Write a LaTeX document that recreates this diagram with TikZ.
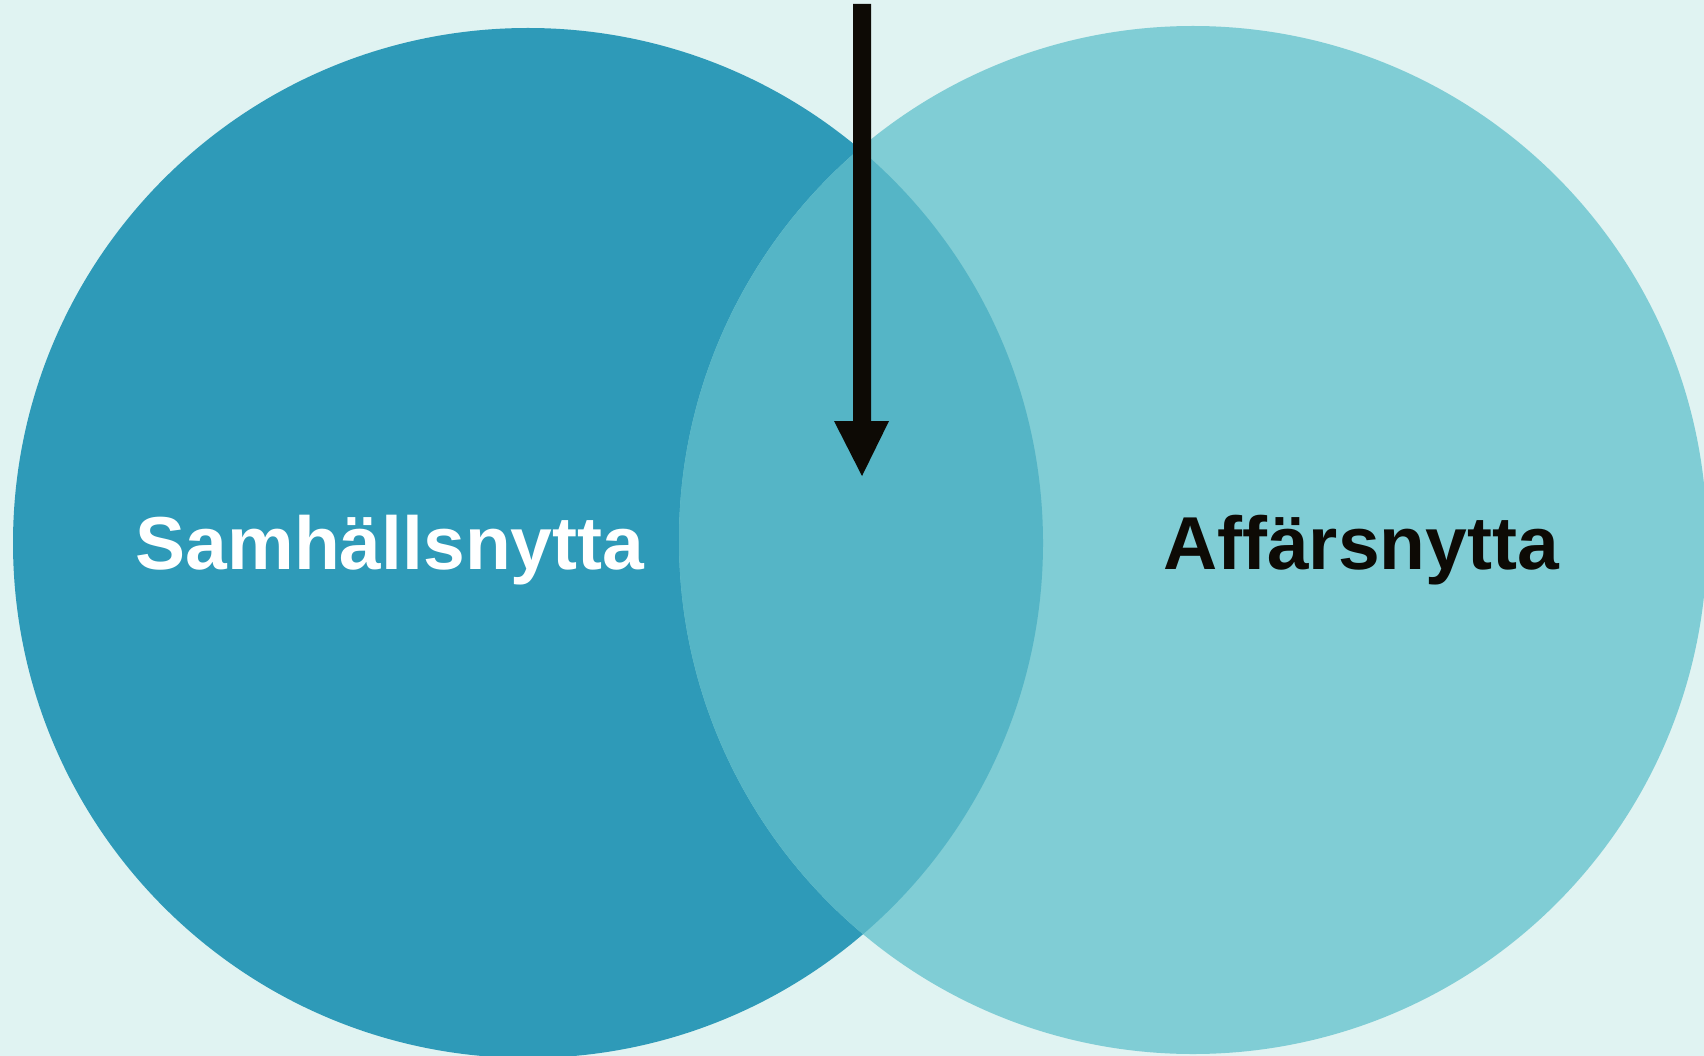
\documentclass[tikz,border=0pt]{standalone}
\usepackage{fontspec}
\setmainfont[Ligatures=NoCommon]{Liberation Sans}
\definecolor{bgc}{HTML}{E0F3F2}
\definecolor{leftc}{HTML}{2E9AB8}
\definecolor{rightc}{HTML}{80CDD5}
\definecolor{overc}{HTML}{55B5C6}
\definecolor{arrowc}{HTML}{0D0A05}
\begin{document}
\begin{tikzpicture}[x=1pt,y=-1pt,
  lbl/.style={anchor=base, inner sep=0pt, font=\bfseries\fontsize{75}{90}\selectfont}]
\fill[bgc] (0,0) rectangle (1704,1056);
\useasboundingbox (0,0) rectangle (1704,1056);
\coordinate (lc) at (528,543);
\coordinate (rc) at (1193,540);
\fill[leftc] (lc) circle (515pt);
\fill[rightc] (rc) circle (514pt);
\begin{scope}
  \clip (lc) circle (515pt);
  \fill[overc] (rc) circle (514pt);
\end{scope}
\fill[arrowc] (853,4) -- (871,4) -- (871,421) -- (889,421) -- (862,476)
  -- (834,421) -- (853,421) -- cycle;
\node[lbl, text=white] (samh) at (390,569) {Samhällsnytta};
\node[lbl, text=arrowc] (affa) at (1361,569) {Affärsnytta};
\end{tikzpicture}
\end{document}
